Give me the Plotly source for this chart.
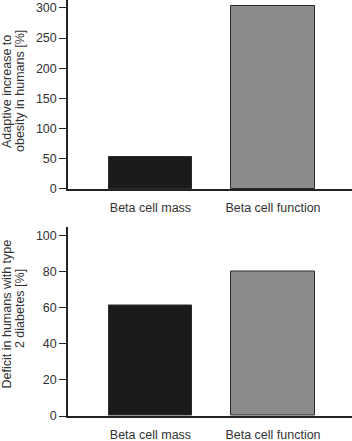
import plotly.graph_objects as go
from plotly.subplots import make_subplots

categories = ["Beta cell mass", "Beta cell function"]
adaptive_increase = [53, 303]
deficit_t2d = [61, 80]
bar_colors = ["#1b1b1b", "#8b8c8a"]
top_title = ["Adaptive increase to", "obesity in humans [%]"]
bottom_title = ["Deficit in humans with type", "2 diabetes [%]"]

fig = make_subplots(rows=2, cols=1, vertical_spacing=0.09)

fig.add_trace(go.Bar(x=categories, y=adaptive_increase, marker=dict(color=bar_colors, line=dict(color="#2a2a2a", width=1)),
                     width=0.678, showlegend=False), row=1, col=1)
fig.add_trace(go.Bar(x=categories, y=deficit_t2d, marker=dict(color=bar_colors, line=dict(color="#2a2a2a", width=1)),
                     width=0.678, showlegend=False), row=2, col=1)

font = dict(family="Liberation Sans, Arial, sans-serif", size=12.5, color="#333333")
title_font = dict(family="Liberation Sans, Arial, sans-serif", size=12.5, color="#333333")

fig.update_layout(
    width=352, height=441,
    margin=dict(l=68, r=0, t=0, b=25),
    plot_bgcolor="white", paper_bgcolor="white",
    font=font,
    bargap=0,
)

fig.update_layout(
    yaxis=dict(domain=[0.5457, 1.0]),
    yaxis2=dict(domain=[0.0, 0.4555]),
)

for r in (1, 2):
    fig.update_xaxes(row=r, col=1, range=[-0.673, 1.645], showline=True, linecolor="#222222", linewidth=1.5,
                     ticks="", showgrid=False, zeroline=False, tickfont=font, ticklabelstandoff=6,
                     automargin=False)

fig.update_yaxes(row=1, col=1, range=[0, 313], tick0=0, dtick=50)
fig.update_yaxes(row=2, col=1, range=[0, 105], tick0=0, dtick=20)
fig.update_yaxes(showline=True, linecolor="#222222", linewidth=1.5, ticks="outside", ticklen=7, tickwidth=1,
                 tickcolor="#222222", showgrid=False, zeroline=False, tickfont=font, automargin=False)

for text, xp, yp in [(top_title[0], -0.2148, 0.7813), (top_title[1], -0.169, 0.7813),
                     (bottom_title[0], -0.2148, 0.2465), (bottom_title[1], -0.169, 0.257)]:
    fig.add_annotation(text=text, textangle=-90, xref="paper", yref="paper", x=xp, y=yp,
                       xanchor="center", yanchor="middle", showarrow=False, font=title_font)

fig.write_html("out.html")
